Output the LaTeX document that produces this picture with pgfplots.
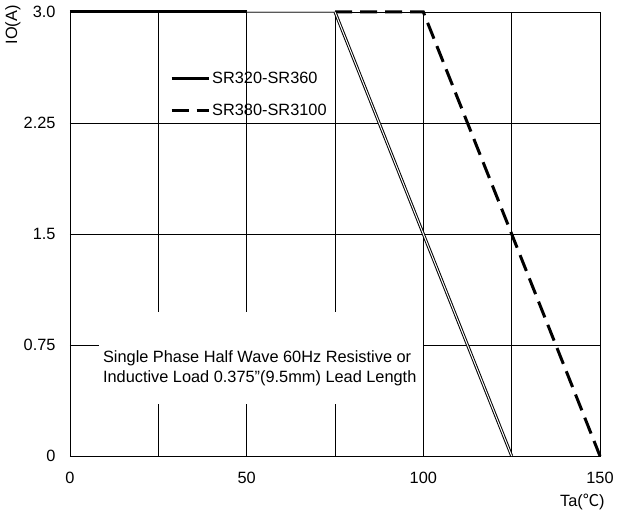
\documentclass[border=0pt]{standalone}
\usepackage{fontspec}
\setmainfont{Liberation Sans}
\newfontfamily\cjk{Noto Sans CJK SC}
\usepackage{pgfplots}
\pgfplotsset{compat=1.18}
\newcommand{\fs}{\fontsize{16.4}{19}\selectfont}
\begin{document}
\begin{tikzpicture}
\path[use as bounding box] (-70bp,-60bp) rectangle (552bp,456bp);
\begin{axis}[
  at={(0,0)}, anchor=south west,
  scale only axis, width=530bp, height=444bp,
  xmin=0, xmax=150, ymin=0, ymax=3,
  xtick={0,25,50,75,100,125,150}, xticklabels={\raisebox{7bp}{0},,50,,100,,150},
  ytick={0,0.75,1.5,2.25,3}, yticklabels={0,0.75,1.5,2.25,3.0},
  /pgf/number format/assume math mode=true,
  grid=major, major grid style={black, line width=0.6bp},
  axis line style={black, line width=0.8bp},
  major tick length=0pt,
  ticklabel style={font=\fs},
  xticklabel style={yshift=-13bp},
  yticklabel style={xshift=-11bp},
  clip=false,
  legend style={draw=none, fill=none, at={(axis cs:28.3,2.56)}, anchor=north west,
    font=\fs, inner sep=0pt, row sep=15bp, yshift=7bp},
  legend cell align=left,
  legend image code/.code={\draw[#1] (0bp,0bp) -- (37bp,0bp);},
]
\fill[white] (axis cs:8.2,0.35) rectangle (axis cs:99.8,0.97);
\node[anchor=base west, font=\fs, inner sep=0pt] at (axis cs:9.3,0.635) {Single Phase Half Wave 60Hz Resistive or};
\node[anchor=base west, font=\fs, inner sep=0pt] at (axis cs:9.3,0.50) {Inductive Load 0.375"(9.5mm) Lead Length};

\addplot[black, line width=3bp] coordinates {(0,3) (50,3)};
\addlegendentry{SR320-SR360}
\addplot[black, line width=3bp, dash pattern=on 17bp off 8bp] coordinates {(75,3) (100,3) (150,0)};
\addlegendentry{SR380-SR3100}
\addplot[forget plot, gray!70!black, double=gray!45, double distance=1bp, line width=0.7bp] coordinates {(50,3) (75,3)};
\addplot[forget plot, black, double=white, double distance=1bp, line width=1bp] coordinates {(75,3) (125,0)};

\node[font=\fs, rotate=90] at ([xshift=-57bp, yshift=-13bp]axis cs:0,3) {IO(A)};
\node[font=\fs] at ([yshift=-46bp]axis cs:145,0) {Ta({\cjk ℃})};
\end{axis}
\end{tikzpicture}
\end{document}
